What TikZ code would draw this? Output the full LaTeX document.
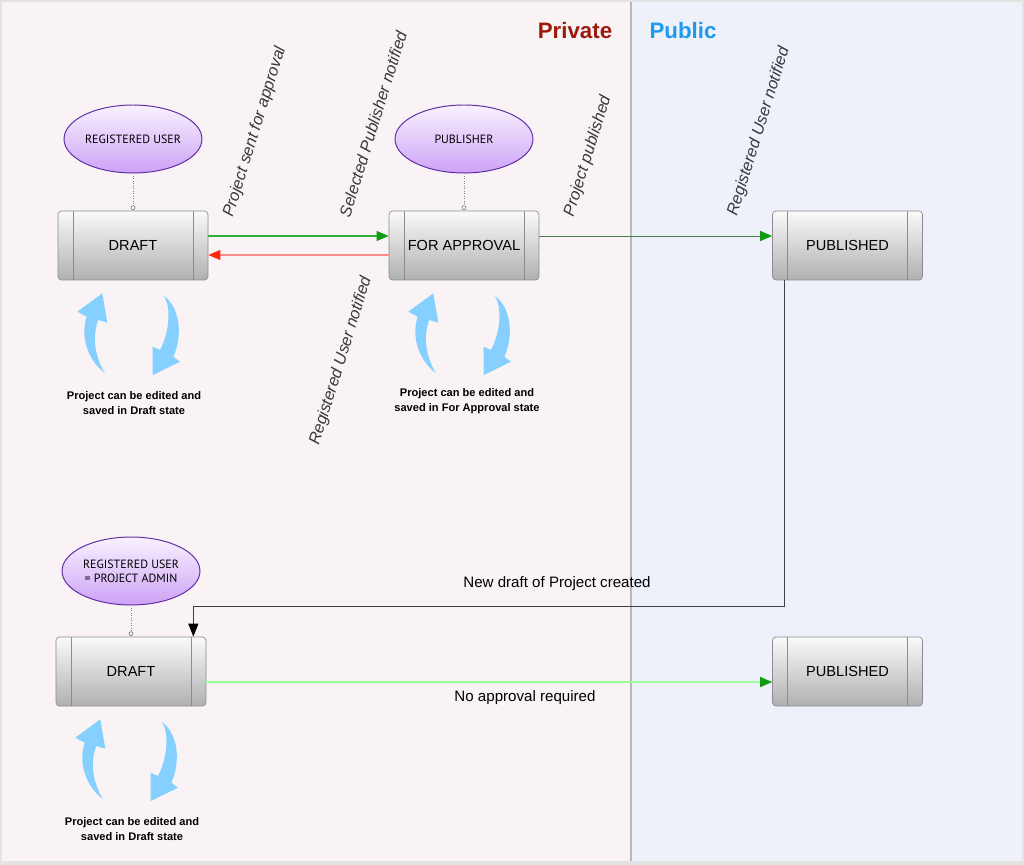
\documentclass[tikz,border=0pt]{standalone}
\usepackage{fontspec}
\setmainfont{Liberation Sans}
\newfontfamily\rolefont{PT Sans}
\usepackage{tikz}
\usetikzlibrary{arrows.meta,backgrounds,calc,positioning,shapes.geometric}
\definecolor{privbg}{HTML}{F9F3F5}
\definecolor{publbg}{HTML}{EEF0FA}
\definecolor{privred}{HTML}{9B1A0C}
\definecolor{publblue}{HTML}{1E9AF0}
\definecolor{loopblue}{HTML}{85D0FF}
\definecolor{okgreen}{HTML}{129A12}
\definecolor{backred}{HTML}{FF2A10}
\definecolor{lblgray}{HTML}{383838}
\definecolor{rolepurple}{HTML}{5E2CA5}
\definecolor{roletop}{HTML}{F8F2FE}
\definecolor{rolebottom}{HTML}{CDA2F6}
\tikzset{
statebox/.style={rectangle, rounded corners=0.07cm, draw=gray!90, top color=gray!4, bottom color=gray!62, minimum width=3cm, minimum height=1.38cm, font=\fontsize{8.3}{10}\selectfont,
  path picture={\draw[gray!90] ([xshift=0.3cm]path picture bounding box.north west) -- ([xshift=0.3cm]path picture bounding box.south west);
  \draw[gray!90] ([xshift=-0.3cm]path picture bounding box.north east) -- ([xshift=-0.3cm]path picture bounding box.south east);}},
role/.style={ellipse, draw=rolepurple, line width=0.55pt, top color=roletop, bottom color=rolebottom, minimum width=2.76cm, minimum height=1.36cm, inner sep=0pt, align=center, font=\rolefont\fontsize{6.8}{7.8}\selectfont},
knob/.style={circle, draw=gray, fill=white, inner sep=0pt, minimum size=0.08cm},
tie/.style={densely dotted, gray},
note/.style={align=center, font=\bfseries\fontsize{6.3}{8.4}\selectfont},
event/.style={rotate=72.7, text=lblgray, font=\itshape\fontsize{9.3}{11}\selectfont},
flow/.style={font=\fontsize{8.6}{10}\selectfont},
lane/.style={font=\bfseries\fontsize{12.7}{14}\selectfont},
editloop/.pic={
  \fill[loopblue] (-28,127.8) .. controls (-48,112) and (-52,88) .. (-46.3,71.2) -- (-55.7,66.2) -- (-30.7,47.8) -- (-25.7,77.2) -- (-34.7,74.5) .. controls (-40,88) and (-40,108) .. cycle;
  \fill[loopblue] (31,50.5) .. controls (47,62) and (50,90) .. (40.3,111.2) -- (47,116.2) -- (19.7,129.5) -- (19.7,101.2) -- (27,104.5) .. controls (37,85) and (38,62) .. cycle;
}
}
\begin{document}
\begin{tikzpicture}[x=0.02cm,y=-0.02cm]
\useasboundingbox (0,0) rectangle (1024,865);
\fill[gray!22] (0,0) rectangle (1024,865);
\fill[privbg] (2,2) rectangle (631,861);
\fill[publbg] (631,2) rectangle (1022,861);
\draw[gray!55, line width=0.04cm] (631,2) -- (631,861);

\node[lane, text=privred] (private) at (575,31) {Private};
\node[lane, text=publblue] (public) at (683,31) {Public};

\node[statebox] (draft1) at (133,245.5) {DRAFT};
\node[statebox] (approval) at (464,245.5) {FOR APPROVAL};
\node[statebox] (pub1) at (847.5,245.5) {PUBLISHED};
\node[statebox] (draft2) at (131,671.5) {DRAFT};
\node[statebox] (pub2) at (847.5,671.5) {PUBLISHED};

\node[role] (reguser) at (133,139) {REGISTERED USER};
\node[role] (publisher) at (464,139) {PUBLISHER};
\node[role] (admin) at (131,571) {REGISTERED USER\\= PROJECT ADMIN};

\node[knob] (k1) at ($(draft1.north)+(0,-3)$) {};
\node[knob] (k2) at ($(approval.north)+(0,-3)$) {};
\node[knob] (k3) at ($(draft2.north)+(0,-3)$) {};
\draw[tie] (reguser.south) -- (k1);
\draw[tie] (publisher.south) -- (k2);
\draw[tie] (admin.south) -- (k3);

\draw[green!60!black!80, line width=0.6pt, -{Triangle[length=0.24cm,width=0.2cm,okgreen]}] ($(draft1.east)+(0,-9.5)$) -- ($(approval.west)+(0,-9.5)$);
\draw[red!45!white, line width=0.6pt, -{Triangle[length=0.24cm,width=0.2cm,backred]}] ($(approval.west)+(0,9.5)$) -- ($(draft1.east)+(0,9.5)$);
\draw[green!35!black!75, line width=0.5pt, -{Triangle[length=0.24cm,width=0.2cm,okgreen]}] ($(approval.east)+(0,-9.5)$) -- ($(pub1.west)+(0,-9.5)$);
\draw[black!75, line width=0.6pt, -{Triangle[length=0.26cm,width=0.2cm,black]}] ($(pub1.south west)+(12,0)$) -- ++(0,326) -| ($(draft2.north east)+(-13,0)$);
\draw[green!40!white, line width=0.8pt, -{Triangle[length=0.24cm,width=0.2cm,okgreen]}] ($(draft2.east)+(0,10.5)$) -- ($(pub2.west)+(0,10.5)$);

\node[event] (sent) at (255,132) {Project sent for approval};
\node[event] (selected) at (373,124) {Selected Publisher notified};
\node[event] (published) at (588,156) {Project published};
\node[event] (notified1) at (759,131.5) {Registered User notified};
\node[event] (notified2) at (341,361) {Registered User notified};
\node[flow] (newdraft) at (557,584) {New draft of Project created};
\node[flow] (noapproval) at (525,698) {No approval required};

\pic at (draft1.center) {editloop};
\pic at (approval.center) {editloop};
\pic at (draft2.center) {editloop};
\node[note] (note1) at (134,403) {Project can be edited and\\saved in Draft state};
\node[note] (note2) at (467,401) {Project can be edited and\\saved in For Approval state};
\node[note] (note3) at (132,829) {Project can be edited and\\saved in Draft state};
\end{tikzpicture}
\end{document}
